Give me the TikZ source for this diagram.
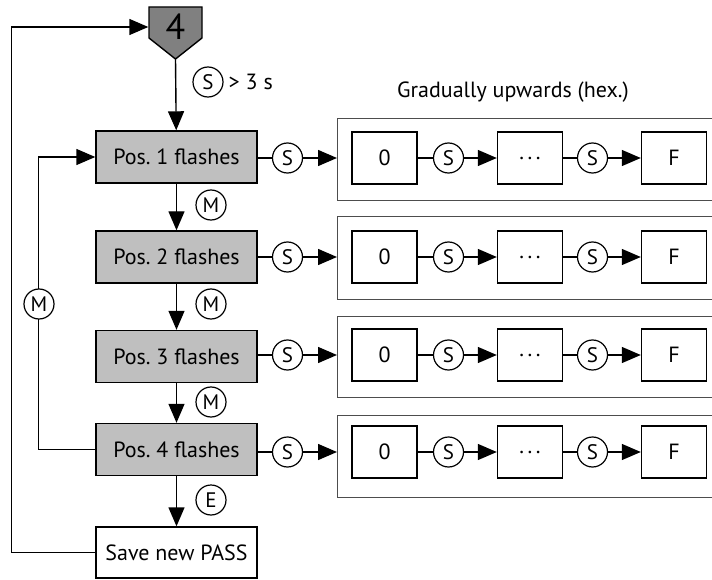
\documentclass[tikz,border=0pt]{standalone}
\usepackage{fontspec}
\setmainfont{PT Sans}
\usetikzlibrary{arrows.meta}
\definecolor{posfill}{HTML}{BFBFBF}
\definecolor{headfill}{HTML}{808080}
\definecolor{framegray}{HTML}{4D4D4D}
\newcommand{\spreaddots}{.\kern3.5pt.\kern3.5pt.}
\begin{document}
\begin{tikzpicture}[x=1pt,y=-1pt,line width=1.4pt,
  arr/.style={-{Triangle[length=19pt,width=16pt]}},
  txt/.style={font=\fontsize{22}{24}\selectfont},
  posbox/.style={draw,fill=posfill,minimum width=161pt,minimum height=52pt,inner sep=0pt,txt},
  savebox/.style={draw,fill=white,minimum width=161pt,minimum height=51pt,inner sep=0pt,txt},
  cell/.style={draw,fill=white,minimum width=65pt,minimum height=52pt,inner sep=0pt,txt},
  circ/.style={circle,draw,fill=white,minimum size=30pt,inner sep=0pt,line width=1.2pt,
    font=\fontsize{21}{22}\selectfont},
  frame/.style={draw=framegray,line width=1pt}]
\useasboundingbox (0,0) rectangle (712,580);

% start symbol
\filldraw[fill=headfill,draw=black] (149,7) -- (202,7) -- (202,38) -- (175.5,59) -- (149,38) -- cycle;
\node[minimum width=53pt,minimum height=20pt,inner sep=0pt,font=\fontsize{36}{38}\selectfont] (four) at (175.5,27) {4};
\coordinate (fourtip) at (175.5,59);

% heading of the value lists
\node[txt,anchor=base] (head) at (513,98) {Gradually upwards (hex.)};

% the four positions with their value lists
\foreach \r/\py/\iy/\gt/\gb in {1/157/158/119/201,2/257/257/217/299,3/356.5/355/316/397,4/449.5/452/415/497}{
  \node[posbox] (pos\r) at (176.5,\py) {Pos.\ \r\ flashes};
  \node[circ] (s\r) at (287.5,\iy) {S};
  \coordinate (g\r) at (337,\iy);
  \draw[frame] (715,\gt) -- (337,\gt) -- (337,\gb) -- (715,\gb);
  \node[cell] (z\r) at (384.5,\iy) {0};
  \node[circ] (sa\r) at (448.5,\iy) {S};
  \node[cell] (d\r) at (530,\iy) {\spreaddots};
  \node[circ] (sb\r) at (592.5,\iy) {S};
  \node[cell] (f\r) at (674,\iy) {F};
  \draw (pos\r.east |- s\r) -- (s\r);
  \draw[arr] (s\r) -- (g\r);
  \draw (z\r) -- (sa\r);
  \draw[arr] (sa\r) -- (d\r);
  \draw (d\r) -- (sb\r);
  \draw[arr] (sb\r) -- (f\r);
}

\node[savebox] (save) at (176.5,552.5) {Save new PASS};

% main sequence
\draw[arr] (fourtip) -- (pos1);
\draw[arr] (pos1) -- (pos2);
\draw[arr] (pos2) -- (pos3);
\draw[arr] (pos3) -- (pos4);
\draw[arr] (pos4) -- (save);

% return paths
\draw[arr] (save.west) -- ++(-84,0) |- (four.west);
\draw[arr] (pos4.west) -- ++(-57,0) |- (pos1.west);

% key labels
\node[circ] (kstart) at (208,82) {S};
\node[txt,anchor=west,inner sep=0pt] (tstart) at (228,82) {> 3 s};
\node[circ] (m1) at (211,205) {M};
\node[circ] (m2) at (211,304) {M};
\node[circ] (m3) at (211,402) {M};
\node[circ] (e1) at (211,500) {E};
\node[circ] (mloop) at (39,304) {M};
\end{tikzpicture}
\end{document}
